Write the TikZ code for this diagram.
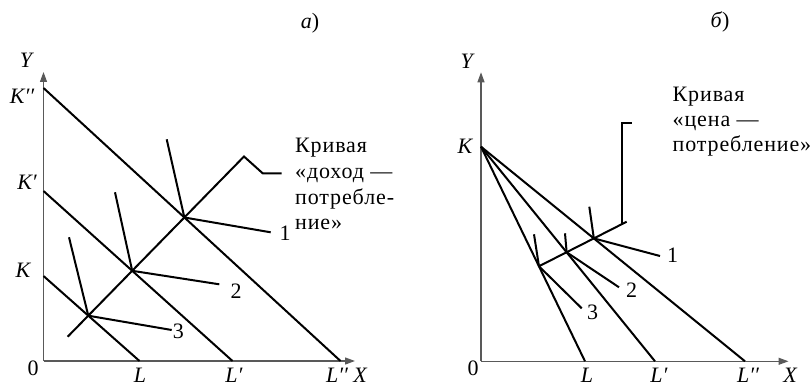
\documentclass[tikz,border=0pt]{standalone}
\usepackage{fontspec}
\setmainfont{Liberation Serif}
\newfontfamily\blockfont{Liberation Serif}[LetterSpace=4]
\usetikzlibrary{arrows.meta,calc}
\begin{document}
\begin{tikzpicture}[x=1pt,y=-1pt,
  ln/.style={line width=2pt},
  axis/.style={line width=1.2pt, black!65, -{Triangle[length=10pt,width=7pt]}},
  lbl/.style={font=\fontsize{22}{26}\selectfont\itshape, inner sep=0pt},
  num/.style={font=\fontsize{22}{26}\selectfont, inner sep=0pt},
  txt/.style={font=\fontsize{22}{26}\selectfont\blockfont, inner sep=0pt, anchor=base west}]
\useasboundingbox (0,0) rectangle (811,385);

% ---------------- panel a ----------------
\coordinate (O1) at (43.5,361);
\coordinate (Y1) at (43.5,72);
\coordinate (X1) at (355,361);
\coordinate (K1) at (43.5,276);
\coordinate (K1p) at (43.5,191);
\coordinate (K1pp) at (43.5,88);
\coordinate (L1) at (139.5,361);
\coordinate (L1p) at (232.5,361);
\coordinate (L1pp) at (340.5,361);
\coordinate (S1) at (67.7,336.7);
\coordinate (T1) at (244,156.5);
\coordinate (B1) at (262.7,173.3);
\coordinate (E1) at (281.7,173.3);

\draw[axis] (O1) -- (Y1);
\draw[axis] (O1) -- (X1);
\draw[ln] (K1) -- (L1);
\draw[ln] (K1p) -- (L1p);
\draw[ln] (K1pp) -- (L1pp);

\coordinate (A3) at (intersection of S1--T1 and K1--L1);
\coordinate (A2) at (intersection of S1--T1 and K1p--L1p);
\coordinate (A1) at (intersection of S1--T1 and K1pp--L1pp);

\draw[ln] (S1) -- (T1) -- (B1) -- (E1);

\coordinate (U1a) at (166.7,139.3);
\coordinate (D1a) at (270.7,232.3);
\coordinate (U2a) at (115,192.3);
\coordinate (D2a) at (219.3,284.3);
\coordinate (U3a) at (69,237.3);
\coordinate (D3a) at (171.7,330);
\draw[ln] (U1a) -- (A1) -- (D1a);
\draw[ln] (U2a) -- (A2) -- (D2a);
\draw[ln] (U3a) -- (A3) -- (D3a);

\node[num] (n1a) at (285,233.5) {1};
\node[num] (n2a) at (236,291) {2};
\node[num] (n3a) at (178.3,331.7) {3};

\node[lbl] (ya) at (26,60) {Y};
\node[lbl] (kppa) at (22,96) {K′′};
\node[lbl] (kpa) at (27,182) {K′};
\node[lbl] (ka) at (23,270) {K};
\node[num] (oa) at (33,368.5) {0};
\node[lbl] (la) at (140,375) {L};
\node[lbl] (lpa) at (234,375) {L′};
\node[lbl] (lppa) at (337,375) {L′′};
\node[lbl] (xa) at (360,375) {X};
\node[num] (tita) at (310,23) {\textit{а})};

\node[txt] (ta1) at (295,153) {Кривая};
\node[txt] (ta2) at (295,178.5) {«доход —};
\node[txt] (ta3) at (295,204) {потребле-};
\node[txt] (ta4) at (295,229.5) {ние»};

% ---------------- panel b ----------------
\coordinate (O2) at (481,361.3);
\coordinate (Y2) at (481,72.3);
\coordinate (X2) at (788.5,361.3);
\coordinate (K2) at (481,146.7);
\coordinate (L2) at (585,361.3);
\coordinate (L2p) at (655,361.3);
\coordinate (L2pp) at (745,361.3);
\coordinate (S2) at (540,265.7);
\coordinate (T2) at (626.7,221.7);

\draw[axis] (O2) -- (Y2);
\draw[axis] (O2) -- (X2);
\draw[ln] (K2) -- (L2);
\draw[ln] (K2) -- (L2p);
\draw[ln] (K2) -- (L2pp);

\coordinate (P3) at (intersection of S2--T2 and K2--L2);
\coordinate (P2) at (intersection of S2--T2 and K2--L2p);
\coordinate (P1) at (intersection of S2--T2 and K2--L2pp);

\draw[ln] (P3) -- (T2);
\coordinate (G1) at (622,223.5);
\coordinate (G2) at (622,123.3);
\coordinate (G3) at (632,123.3);
\draw[ln] (G1) -- (G2) -- (G3);

\coordinate (U1b) at (589.3,206.7);
\coordinate (D1b) at (660,256);
\coordinate (U2b) at (565,233.3);
\coordinate (D2b) at (619,287.3);
\coordinate (U3b) at (534,234.3);
\coordinate (D3b) at (581.7,308.3);
\draw[ln] (U1b) -- (P1) -- (D1b);
\draw[ln] (U2b) -- (P2) -- (D2b);
\draw[ln] (U3b) -- (P3) -- (D3b);

\node[num] (n1b) at (672.7,255) {1};
\node[num] (n2b) at (631.7,290.7) {2};
\node[num] (n3b) at (592.7,312.7) {3};

\node[lbl] (yb) at (466.7,61.7) {Y};
\node[lbl] (kb) at (465,146.7) {K};
\node[num] (ob) at (473,368.5) {0};
\node[lbl] (lb) at (587,375) {L};
\node[lbl] (lpb) at (659,375) {L′};
\node[lbl] (lppb) at (748,375) {L′′};
\node[lbl] (xb) at (790,375) {X};
\node[num] (titb) at (720,22) {\textit{б})};

\node[txt] (tb1) at (672.5,101.5) {Кривая};
\node[txt] (tb2) at (672.5,126.5) {«цена —};
\node[txt] (tb3) at (672.5,151.5) {потребление»};
\end{tikzpicture}
\end{document}
